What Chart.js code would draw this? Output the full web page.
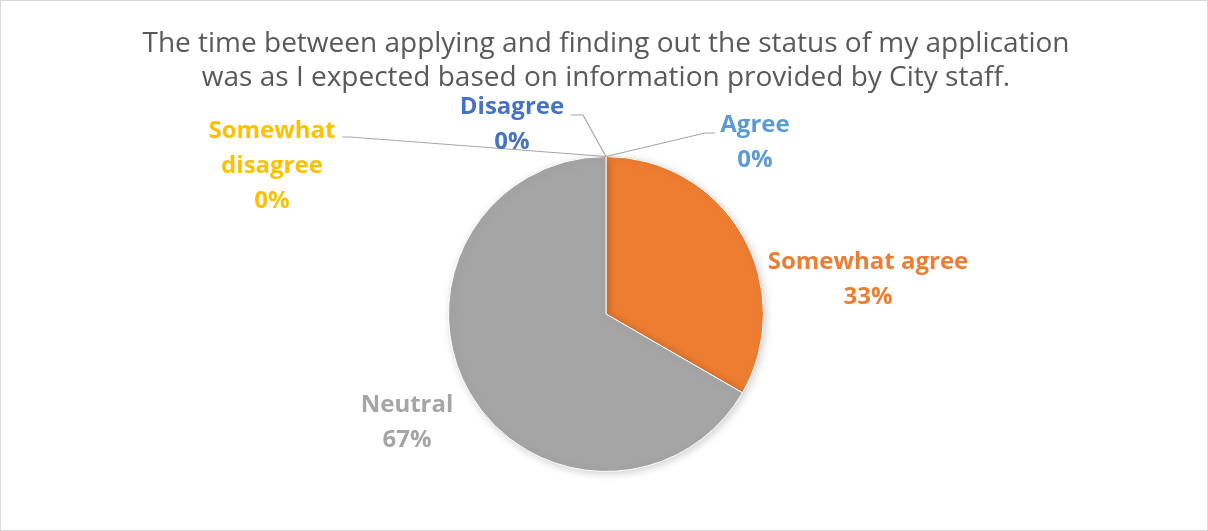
<!DOCTYPE html>
<html>
<head>
<meta charset="utf-8">
<script src="https://cdn.jsdelivr.net/npm/chart.js@4/dist/chart.umd.min.js"></script>
<style>
  html, body { margin: 0; padding: 0; background: #fff; }
  #wrap { position: relative; width: 1208px; height: 531px; box-sizing: border-box; border: 1px solid #d9d9d9; }
  canvas { display: block; }
</style>
</head>
<body>
<div id="wrap"><canvas id="pie" width="1206" height="529"></canvas></div>
<script>
// ── Data ────────────────────────────────────────────────────────────────────
const categories  = ['Agree', 'Somewhat agree', 'Neutral', 'Somewhat disagree', 'Disagree'];
const responses   = [0, 1, 2, 0, 0];
const sliceColors = ['#5B9BD5', '#ED7D31', '#A5A5A5', '#FFC000', '#4472C4'];
const titleLines  = [
  'The time between applying and finding out the status of my application',
  'was as I expected based on information provided by City staff.',
];

// label layout, px offsets from pie centre (text centre of first line, optional leader elbow)
const LABEL_LAYOUT = {
  'Agree':             { lines: ['Agree'],                x: 149,  y: -189, elbow: [99, -181],  end: [109, -181] },
  'Somewhat agree':    { lines: ['Somewhat agree'],       x: 262,  y: -52 },
  'Neutral':           { lines: ['Neutral'],              x: -199, y: 91 },
  'Somewhat disagree': { lines: ['Somewhat', 'disagree'], x: -334, y: -183, elbow: [-256, -177], end: [-264, -177] },
  'Disagree':          { lines: ['Disagree'],             x: -94,  y: -207, elbow: [-23, -199], end: [-35, -199] },
};

const FONT = "'Open Sans', 'Noto Sans', sans-serif";
const LINE_H = 35;

const total = responses.reduce((s, v) => s + v, 0);
const pct = v => Math.round((v / total) * 100) + '%';

// ── Title + data labels (drawn on canvas) ───────────────────────────────────
const labelPlugin = {
  id: 'excelLabels',
  beforeDatasetsDraw(chart) {
    const ctx = chart.ctx;
    ctx.save();
    ctx.shadowColor = 'rgba(0,0,0,0.18)';
    ctx.shadowBlur = 8;
    ctx.shadowOffsetX = 2;
    ctx.shadowOffsetY = 2;
  },
  afterDatasetsDraw(chart) {
    const ctx = chart.ctx;
    ctx.restore();
    const meta = chart.getDatasetMeta(0);
    const arc0 = meta.data[0];
    const cx = arc0.x, cy = arc0.y, r = arc0.outerRadius;

    ctx.save();
    // title
    ctx.fillStyle = '#595959';
    ctx.font = `28px ${FONT}`;
    ctx.textAlign = 'center';
    ctx.textBaseline = 'middle';
    titleLines.forEach((t, i) => ctx.fillText(t, 605, 43 + i * 34));

    // labels
    ctx.font = `bold 24px ${FONT}`;
    categories.forEach((cat, i) => {
      const lay = LABEL_LAYOUT[cat];
      const arc = meta.data[i];
      if (lay.elbow) {
        const a = arc.startAngle;
        ctx.strokeStyle = '#A6A6A6';
        ctx.lineWidth = 1.2;
        ctx.beginPath();
        ctx.moveTo(cx + r * Math.cos(a), cy + r * Math.sin(a));
        ctx.lineTo(cx + lay.elbow[0], cy + lay.elbow[1]);
        ctx.lineTo(cx + lay.end[0], cy + lay.end[1]);
        ctx.stroke();
      }
      ctx.fillStyle = sliceColors[i];
      const lines = [...lay.lines, pct(responses[i])];
      lines.forEach((ln, k) => ctx.fillText(ln, cx + lay.x, cy + lay.y + k * LINE_H));
    });
    ctx.restore();
  },
};

new Chart(document.getElementById('pie'), {
  type: 'pie',
  data: {
    labels: categories,
    datasets: [{
      data: responses,
      backgroundColor: sliceColors,
      borderColor: '#FFFFFF',
      borderWidth: 1,
    }],
  },
  options: {
    responsive: false,
    animation: false,
    layout: { padding: { top: 155, bottom: 58, left: 447, right: 443 } },
    plugins: {
      legend: { display: false },
      tooltip: { enabled: false },
      title: { display: false },
    },
  },
  plugins: [labelPlugin],
});
</script>
</body>
</html>
